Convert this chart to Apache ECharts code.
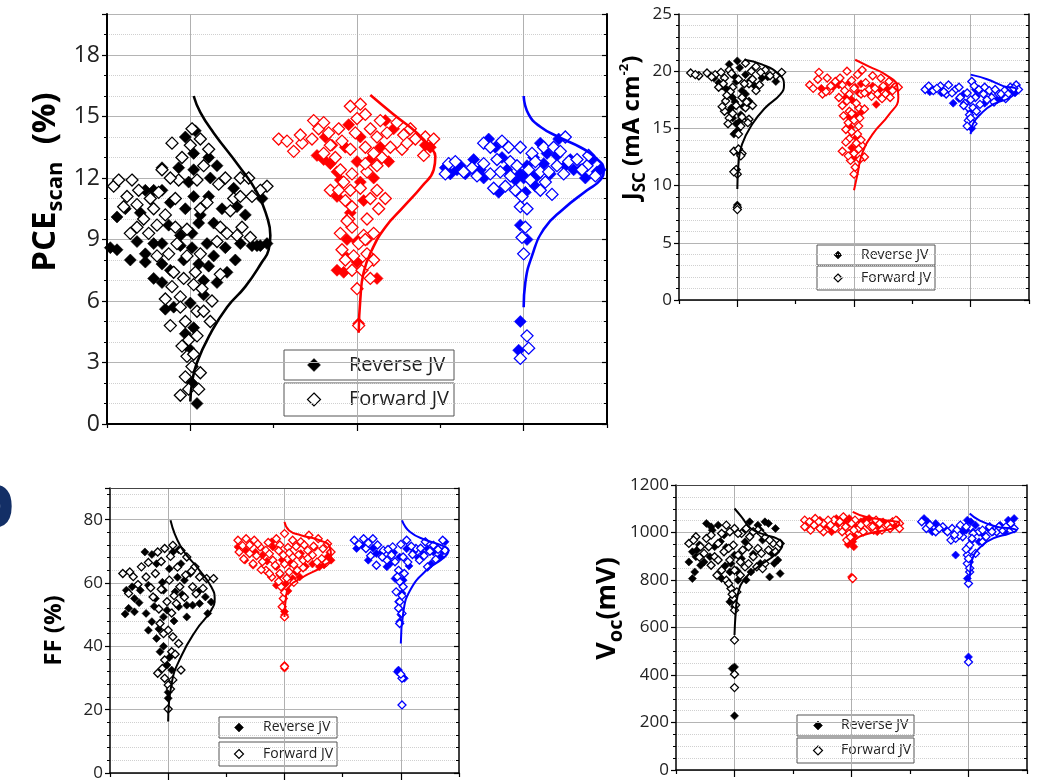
<!DOCTYPE html>
<html>
<head>
<meta charset="utf-8">
<script src="https://cdn.jsdelivr.net/npm/echarts@6/dist/echarts.min.js"></script>
<style>
  html, body { margin: 0; padding: 0; background: #fff; }
  #chart { width: 1037px; height: 784px; }
</style>
</head>
<body>
<div id="chart"></div>
<script>
// Device groups sit at x = 1, 2, 3; each point is [offset from group centre, value].
const groupColors = ['#000000', '#ff0000', '#0000ff'];
const seriesNames = ['Reverse JV', 'Forward JV'];

// ---- PCE (%) ----
const pceRevK = [[-0.03,14.0],[0.03,14.3],[0.02,13.2],[0.11,13.0],[0.16,12.6],[-0.07,12.5],[-0.17,12.5],[0.02,12.4],[0.26,11.5],[0.43,11.0],[0.11,11.1],[0.02,11.1],[-0.44,10.1],[-0.39,10.5],[-0.30,10.3],[-0.22,11.4],[-0.27,11.4],[-0.17,11.4],[-0.12,10.8],[-0.03,10.5],[0.19,10.5],[0.28,10.6],[0.33,10.2],[-0.13,9.7],[0.05,9.8],[0.14,9.8],[-0.48,8.6],[-0.44,8.5],[-0.36,8.0],[-0.32,8.9],[-0.27,8.3],[-0.27,7.9],[-0.22,8.8],[-0.17,8.8],[-0.06,9.2],[0.01,8.6],[0.10,8.8],[0.21,8.6],[0.27,8.0],[0.30,8.8],[0.37,8.7],[0.42,8.7],[0.46,8.8],[-0.22,7.1],[-0.17,7.8],[-0.12,7.5],[-0.04,8.0],[0.05,7.8],[0.11,7.7],[0.16,6.9],[0.22,7.4],[-0.17,6.9],[-0.15,5.6],[-0.10,5.7],[0.00,5.9],[0.02,4.7],[-0.03,4.4],[-0.01,3.7],[0.01,2.0],[0.04,1.0],[0.01,9.3],[-0.06,8.7],[0.14,8.2],[0.08,7.0],[0.12,12.0],[-0.01,11.8],[0.06,10.2],[0.08,6.3],[0.40,8.7]];
const pceFwdK = [[0.01,14.4],[0.06,13.9],[-0.11,13.7],[-0.05,13.0],[0.11,13.4],[0.00,13.6],[0.08,12.6],[-0.17,12.4],[-0.07,11.9],[-0.12,12.0],[0.04,11.9],[0.17,11.7],[0.21,12.0],[0.30,12.0],[0.35,12.0],[0.46,11.6],[0.42,11.4],[-0.46,11.6],[-0.43,11.9],[-0.35,11.9],[-0.38,11.1],[-0.31,11.4],[-0.24,11.0],[-0.19,11.3],[-0.09,11.0],[0.26,11.0],[0.30,11.1],[0.37,11.1],[-0.32,10.7],[-0.22,10.5],[0.06,10.5],[0.24,10.4],[-0.36,9.3],[-0.25,9.3],[-0.20,9.7],[-0.32,9.6],[-0.09,9.6],[-0.02,9.5],[0.18,9.6],[0.28,9.2],[0.31,9.6],[0.36,9.1],[-0.08,8.8],[-0.02,8.2],[0.06,8.3],[-0.13,8.3],[0.16,8.9],[-0.04,7.1],[-0.11,6.7],[0.02,6.8],[0.07,6.6],[0.13,6.0],[-0.15,6.1],[-0.06,6.2],[0.04,5.5],[-0.06,5.7],[0.08,5.5],[-0.03,5.0],[-0.01,4.1],[-0.05,3.8],[-0.02,3.3],[0.02,3.4],[0.01,2.8],[-0.03,2.3],[-0.06,1.4],[-0.01,1.7],[0.05,1.7],[0.06,2.5],[-0.40,10.6],[-0.28,10.0],[-0.15,10.2],[0.10,10.8],[0.22,9.3],[-0.10,7.4],[0.18,7.3],[-0.20,8.2],[0.03,7.4],[0.12,5.0],[-0.12,4.8],[0.04,4.3]];
const pceRevR = [[-0.05,14.6],[0.17,14.8],[0.02,14.0],[-0.19,14.0],[-0.24,13.1],[-0.20,12.9],[-0.16,12.7],[-0.12,12.3],[-0.07,13.5],[0.00,12.8],[0.08,12.9],[0.19,12.8],[0.10,12.0],[0.02,11.8],[-0.10,11.9],[-0.12,11.1],[0.04,10.9],[-0.04,10.3],[-0.06,9.0],[0.00,8.9],[0.06,9.0],[-0.06,8.1],[0.00,7.9],[-0.12,7.5],[-0.08,7.4],[0.12,7.1],[0.44,13.5],[0.41,13.6],[0.01,4.9],[0.22,14.4],[-0.15,13.6],[0.14,13.5]];
const pceFwdR = [[-0.04,15.5],[0.02,15.6],[0.05,15.1],[-0.47,13.9],[-0.42,13.8],[-0.38,13.3],[-0.33,13.7],[-0.27,13.9],[-0.26,14.8],[-0.23,14.4],[-0.17,14.2],[-0.11,14.4],[-0.09,13.8],[-0.01,14.2],[0.08,14.4],[0.12,14.0],[0.18,14.2],[0.24,14.7],[0.28,14.1],[0.35,13.9],[0.41,14.0],[0.46,13.9],[0.40,13.1],[0.27,13.4],[0.20,13.5],[0.15,13.0],[0.05,13.5],[-0.04,13.4],[-0.13,13.0],[-0.20,13.2],[-0.10,12.4],[-0.03,12.2],[0.06,12.3],[0.12,12.6],[-0.16,11.4],[-0.11,11.4],[-0.04,11.4],[0.02,11.5],[0.12,11.4],[0.17,11.0],[-0.07,10.9],[-0.03,10.6],[0.06,10.0],[-0.05,10.0],[-0.10,9.3],[-0.03,9.6],[0.04,9.2],[0.10,9.3],[-0.09,8.5],[0.01,8.8],[0.06,8.3],[-0.07,8.0],[-0.03,7.5],[0.10,8.0],[0.08,7.1],[0.03,7.5],[0.00,6.6],[0.01,4.8],[-0.34,14.1],[-0.20,14.7],[0.00,14.9],[0.14,14.8],[0.32,14.4],[-0.16,13.6],[0.10,13.2],[0.30,13.7],[0.05,12.7],[-0.08,11.8],[0.08,11.0],[0.13,10.5],[-0.06,9.9],[0.05,9.0],[-0.02,8.2],[0.06,7.8]];
const pceRevB = [[-0.47,12.5],[-0.44,12.2],[-0.40,12.4],[-0.35,12.2],[-0.30,12.9],[-0.26,12.4],[-0.21,13.9],[-0.17,13.5],[-0.15,11.3],[-0.10,12.4],[-0.05,11.9],[-0.02,12.2],[0.02,12.6],[0.06,13.0],[0.10,13.7],[0.12,12.7],[0.16,12.2],[0.20,13.1],[0.25,12.6],[0.30,12.4],[0.34,12.4],[0.41,12.9],[0.46,12.4],[0.21,13.9],[0.01,11.3],[-0.02,9.7],[0.02,9.0],[-0.02,5.0],[-0.03,3.6],[0.00,12.0],[-0.13,13.0],[0.08,12.1],[-0.38,12.6],[-0.24,12.0],[-0.08,12.8],[0.04,12.2],[0.14,13.2],[0.28,12.9],[0.37,12.0],[0.44,12.3],[0.07,11.6]];
const pceFwdB = [[-0.24,13.7],[-0.20,13.5],[-0.13,13.8],[-0.09,13.5],[-0.02,13.5],[0.05,13.2],[0.12,13.5],[0.18,13.5],[0.22,13.3],[0.25,14.0],[-0.45,12.7],[-0.41,12.8],[-0.47,12.2],[-0.31,12.5],[-0.24,12.7],[-0.20,12.2],[-0.14,12.3],[-0.08,12.8],[0.03,12.4],[0.10,12.3],[0.15,12.3],[0.27,12.8],[0.32,12.9],[0.38,12.6],[0.43,12.1],[-0.18,11.5],[-0.11,11.6],[-0.05,11.4],[0.04,11.9],[0.10,11.4],[0.17,11.2],[-0.02,10.6],[0.02,10.5],[0.01,9.6],[-0.01,9.1],[0.00,8.3],[0.02,4.3],[0.03,3.7],[-0.02,3.2],[-0.36,12.3],[-0.28,12.1],[-0.16,12.9],[-0.04,12.6],[0.07,12.8],[0.20,12.6],[0.24,12.2],[0.35,12.4],[-0.08,12.1],[0.13,11.8],[-0.01,11.1],[0.39,13.1]];
const pceCurveK = [[0.02,16.0],[0.06,15.2],[0.14,14.2],[0.29,12.6],[0.40,11.3],[0.46,10.1],[0.48,9.2],[0.47,8.5],[0.43,7.9],[0.33,6.7],[0.22,5.7],[0.12,4.4],[0.04,3.0],[0.01,2.0],[0.0,1.1]];
const pceCurveR = [[0.08,16.05],[0.22,15.1],[0.36,14.2],[0.44,13.5],[0.47,13.05],[0.46,12.4],[0.39,11.6],[0.28,10.6],[0.17,9.6],[0.09,8.5],[0.04,7.4],[0.02,6.1],[0.01,4.45]];
const pceCurveB = [[0.0,16.0],[0.03,15.1],[0.10,14.5],[0.21,14.0],[0.34,13.5],[0.43,13.0],[0.48,12.4],[0.46,11.9],[0.38,11.4],[0.24,10.5],[0.12,9.5],[0.05,8.2],[0.01,6.9],[0.0,5.7]];

// ---- Jsc (mA cm-2) ----
const jscRevK = [[0.00,20.9],[-0.07,20.6],[0.07,19.7],[0.21,19.4],[0.33,19.1],[-0.01,19.1],[-0.09,18.4],[0.04,18.3],[-0.04,17.7],[0.10,17.4],[-0.07,16.5],[0.03,16.2],[-0.04,15.9],[-0.01,15.4],[-0.03,14.5],[0.00,8.3],[0.00,13.0],[-0.16,19.0],[0.02,20.3],[-0.03,19.6],[0.11,19.2],[0.26,19.5],[-0.13,18.7],[0.07,18.0],[-0.02,17.3],[0.05,16.9],[-0.05,16.8],[0.02,15.6],[0.00,14.8],[-0.20,19.4],[0.15,18.7]];
const jscFwdK = [[-0.40,19.85],[-0.33,19.6],[-0.26,19.85],[-0.19,19.7],[-0.11,19.4],[-0.07,20.1],[-0.16,18.6],[0.07,20.7],[0.16,20.4],[0.24,20.1],[0.33,19.6],[0.38,19.9],[0.10,18.9],[0.16,18.3],[0.04,17.7],[-0.10,17.4],[-0.01,17.0],[0.07,16.8],[-0.11,16.5],[-0.07,15.9],[0.10,15.8],[0.03,15.2],[0.01,14.5],[-0.03,13.0],[0.04,12.8],[-0.01,11.4],[0.00,11.0],[0.00,8.1],[-0.04,18.6],[0.01,19.3],[-0.36,19.7],[-0.22,19.5],[-0.14,19.9],[-0.05,19.8],[0.12,20.0],[0.20,19.9],[0.28,19.6],[-0.12,18.9],[-0.06,18.2],[0.06,18.9],[0.13,19.3],[0.19,18.8],[-0.09,17.9],[0.08,17.3],[0.13,17.0],[-0.13,16.9],[0.04,16.0],[-0.04,16.3],[0.09,15.5],[-0.08,15.4],[0.01,13.2],[0.03,12.6],[-0.03,11.2],[0.00,7.9]];
const jscRevR = [[-0.37,18.7],[-0.13,18.8],[-0.04,19.0],[0.01,18.6],[0.10,19.0],[0.16,18.7],[0.27,18.6],[0.34,18.6],[0.19,17.1],[0.04,18.1],[-0.07,17.7],[0.01,16.2],[-0.03,15.1],[0.03,13.6],[-0.01,12.9],[-0.23,18.3],[-0.28,18.5],[-0.18,18.6],[0.06,18.9],[0.22,18.4],[0.12,18.2],[-0.02,17.5],[0.06,16.4],[-0.04,16.0],[0.02,14.2],[-0.02,13.3],[0.00,12.4],[0.30,18.3]];
const jscFwdR = [[-0.38,18.8],[-0.31,19.3],[-0.30,19.9],[-0.23,19.4],[-0.16,19.1],[-0.10,18.8],[-0.06,20.0],[0.03,19.7],[0.07,20.1],[0.16,19.6],[0.23,19.4],[0.30,19.1],[0.36,18.7],[0.38,18.6],[-0.27,18.0],[-0.21,18.3],[-0.13,17.7],[-0.04,18.0],[0.06,18.0],[0.13,18.4],[0.20,18.0],[0.27,18.0],[0.31,17.7],[-0.10,17.0],[-0.04,16.5],[0.04,16.8],[0.09,16.7],[-0.09,16.1],[0.00,15.7],[-0.07,14.9],[0.03,14.5],[-0.04,14.1],[0.07,13.5],[-0.10,13.0],[0.00,12.8],[0.09,12.5],[-0.03,12.2],[0.00,11.0],[0.04,13.2],[-0.35,18.5],[-0.20,18.7],[-0.12,19.4],[-0.02,19.2],[0.10,19.0],[0.18,18.5],[0.25,18.7],[0.33,18.3],[-0.24,18.2],[-0.08,18.3],[0.00,18.5],[0.09,18.1],[0.15,17.8],[0.24,17.6],[-0.06,17.4],[0.02,17.2],[-0.02,16.3],[0.05,15.9],[-0.05,15.5],[0.04,15.2],[-0.02,14.7],[0.06,14.0],[-0.07,13.8],[0.02,13.7],[-0.05,12.6],[0.05,12.3],[0.01,11.6]];
const jscRevB = [[-0.15,17.2],[-0.06,18.0],[-0.01,15.2],[0.05,17.8],[0.19,17.4],[0.26,17.7],[0.04,18.4],[0.36,18.3],[-0.25,18.1],[-0.10,17.6],[0.00,16.5],[0.01,15.0],[0.12,17.2],[0.23,17.5],[0.31,17.8],[0.38,18.1],[-0.35,18.2]];
const jscFwdB = [[-0.39,18.4],[-0.32,18.3],[-0.26,18.7],[-0.19,18.8],[-0.21,18.0],[-0.13,18.4],[-0.09,17.7],[-0.05,17.2],[-0.02,16.8],[-0.01,16.2],[0.02,16.8],[-0.02,15.7],[-0.03,15.2],[0.01,19.1],[0.07,18.4],[0.11,18.0],[0.18,17.7],[0.24,18.0],[0.29,18.3],[0.34,18.6],[0.39,18.8],[0.41,18.4],[0.04,17.7],[0.08,17.1],[-0.36,18.7],[-0.29,18.5],[-0.23,18.2],[-0.16,18.1],[-0.10,18.6],[-0.03,18.1],[0.03,18.7],[0.00,17.5],[-0.06,17.0],[0.05,16.5],[0.00,15.9],[0.02,15.4],[0.12,18.6],[0.16,18.3],[0.21,18.4],[0.26,18.0],[0.32,18.0],[0.37,18.5],[0.30,17.6],[0.20,17.3],[0.14,17.5]];
const jscCurveK = [[0.06,21.0],[0.21,20.6],[0.36,19.7],[0.40,18.8],[0.37,18.0],[0.24,16.8],[0.13,15.4],[0.04,13.6],[0.01,11.9],[0.0,9.7]];
const jscCurveR = [[0.01,21.0],[0.13,20.4],[0.27,19.7],[0.37,18.7],[0.38,17.7],[0.30,16.2],[0.16,14.5],[0.07,12.8],[0.03,11.0],[0.0,9.6]];
const jscCurveB = [[0.0,19.7],[0.14,19.3],[0.28,18.7],[0.39,18.4],[0.34,17.7],[0.19,17.1],[0.08,16.2],[0.02,15.4],[0.0,14.5]];

// ---- FF (%) ----
const ffRevK = [[-0.37,50.2],[-0.34,52.0],[-0.29,50.9],[-0.36,57.7],[-0.29,55.1],[-0.20,69.8],[-0.17,59.3],[-0.24,57.7],[-0.19,50.4],[-0.14,47.8],[-0.17,45.1],[-0.10,42.5],[-0.04,49.3],[-0.01,51.4],[0.06,57.2],[0.14,60.9],[0.19,63.0],[0.11,66.1],[0.04,69.8],[0.09,52.5],[0.16,53.0],[0.21,53.0],[0.27,53.5],[0.34,50.4],[0.37,54.0],[0.32,55.6],[-0.04,57.7],[-0.10,66.1],[-0.07,38.3],[-0.01,34.1],[0.03,32.5],[0.00,23.6],[0.16,49.3],[-0.11,55.1],[-0.31,58.8],[-0.25,53.8],[-0.12,52.6],[-0.05,60.2],[0.01,64.5],[0.08,61.8],[0.12,56.4],[0.26,57.3],[0.05,48.0],[-0.08,45.5],[-0.04,40.0],[0.01,36.5],[0.00,25.5],[-0.14,69.0],[0.09,70.5]];
const ffFwdK = [[-0.39,63.0],[-0.33,63.5],[-0.34,56.7],[-0.23,65.1],[-0.19,61.9],[-0.11,63.0],[-0.09,69.8],[-0.03,70.9],[0.04,71.9],[0.11,70.3],[0.16,68.2],[0.23,65.1],[0.27,61.9],[0.33,61.4],[0.39,61.4],[0.30,58.3],[0.21,58.8],[0.10,58.8],[0.01,60.9],[-0.13,55.6],[-0.01,54.1],[0.07,53.5],[-0.07,47.2],[0.00,45.1],[0.04,43.0],[0.09,40.9],[0.03,38.3],[-0.03,35.7],[-0.09,31.5],[-0.03,29.9],[0.00,27.8],[0.04,29.4],[0.11,32.5],[0.00,20.2],[-0.30,62.0],[-0.26,59.5],[-0.17,66.5],[-0.06,66.8],[0.02,68.4],[0.08,65.0],[0.15,62.5],[0.20,63.7],[-0.15,58.5],[-0.06,58.0],[0.05,56.0],[0.14,55.5],[0.24,56.6],[-0.08,51.8],[0.03,50.5],[-0.04,44.0],[0.06,37.5],[-0.05,33.0],[0.02,26.5]];
const ffRevR = [[-0.40,71.4],[-0.34,67.2],[-0.27,65.6],[-0.19,68.8],[-0.07,65.1],[0.01,59.8],[0.07,61.4],[0.13,61.9],[-0.07,59.3],[0.30,65.1],[0.37,68.2],[0.40,67.2],[0.00,49.9],[0.00,33.1],[0.14,69.3],[-0.10,71.4],[-0.33,70.2],[-0.25,69.7],[-0.15,66.9],[-0.02,67.3],[0.05,66.2],[0.10,63.5],[0.18,65.2],[0.24,66.0],[0.34,65.7],[0.39,69.6],[-0.04,62.5],[0.03,57.5],[0.00,51.0],[0.00,34.0],[-0.11,73.0],[0.26,71.2]];
const ffFwdR = [[-0.40,73.5],[-0.33,74.0],[-0.26,73.5],[-0.39,69.8],[-0.30,69.3],[-0.21,71.4],[-0.16,70.3],[-0.07,74.0],[0.00,75.6],[0.07,73.5],[0.14,73.0],[0.21,75.1],[0.29,74.0],[0.37,72.4],[0.40,69.8],[-0.27,66.1],[-0.19,66.7],[-0.10,67.2],[-0.01,68.8],[0.07,68.2],[0.16,67.2],[0.24,68.8],[0.32,67.7],[-0.11,61.9],[-0.04,63.0],[0.04,63.5],[0.11,64.0],[-0.03,58.8],[-0.01,55.1],[0.00,49.3],[0.00,33.6],[-0.16,64.0],[0.20,70.3],[-0.36,71.8],[-0.30,72.0],[-0.23,72.3],[-0.14,72.8],[-0.04,72.0],[0.03,71.2],[0.10,71.5],[0.17,72.0],[0.25,71.6],[0.33,70.8],[-0.35,67.6],[-0.24,68.6],[-0.13,69.2],[-0.05,70.2],[0.04,69.5],[0.12,68.9],[0.20,67.8],[0.28,66.6],[0.36,66.5],[-0.20,64.2],[-0.08,65.6],[0.00,66.0],[0.08,65.8],[0.16,64.8],[-0.13,63.0],[0.02,61.5],[0.08,60.2],[-0.05,60.5],[0.00,57.0],[-0.02,52.5]];
const ffRevB = [[-0.38,70.9],[-0.28,67.2],[-0.21,69.3],[-0.12,65.1],[-0.01,68.2],[0.11,69.8],[0.19,69.3],[0.28,69.8],[0.34,68.2],[0.38,73.0],[0.26,66.1],[-0.05,61.4],[0.02,60.9],[-0.02,54.1],[-0.01,47.8],[-0.02,32.5],[0.03,29.9],[-0.33,71.8],[-0.24,71.0],[-0.16,69.8],[-0.06,69.6],[0.05,70.8],[0.15,68.0],[0.23,70.8],[0.31,71.2],[0.36,70.0],[-0.09,66.2],[0.07,65.4],[0.01,56.8],[0.00,50.0],[-0.03,32.0]];
const ffFwdB = [[-0.40,73.5],[-0.32,74.0],[-0.24,74.0],[-0.30,70.9],[-0.15,70.3],[-0.07,71.4],[0.05,73.5],[0.13,70.9],[0.21,73.0],[0.28,71.9],[0.36,73.5],[0.38,70.3],[-0.21,65.6],[-0.12,67.2],[-0.05,66.7],[0.02,68.2],[0.16,67.2],[0.23,65.1],[-0.02,64.0],[0.03,63.0],[-0.01,60.4],[-0.04,57.2],[0.02,58.8],[-0.01,54.1],[0.01,50.4],[-0.01,47.2],[0.01,29.9],[0.01,21.5],[-0.36,72.2],[-0.28,72.6],[-0.20,72.0],[-0.11,70.6],[0.00,72.2],[0.09,71.6],[0.17,71.0],[0.25,70.0],[0.32,70.6],[-0.26,68.6],[-0.16,68.2],[-0.08,68.8],[0.06,66.6],[0.10,69.0],[0.20,68.6],[0.30,67.5],[-0.03,62.0],[0.01,56.0],[-0.02,52.0],[0.00,31.2]];
const ffCurveK = [[0.02,79.8],[0.11,71.4],[0.27,64.0],[0.37,58.8],[0.40,55.1],[0.37,51.4],[0.24,45.1],[0.11,36.7],[0.03,28.3],[0.0,16.3]];
const ffCurveR = [[0.0,79.3],[0.04,76.6],[0.14,75.1],[0.30,73.5],[0.39,71.4],[0.40,68.2],[0.32,65.1],[0.16,61.9],[0.04,58.8],[0.01,54.6],[0.0,49.3]];
const ffCurveB = [[0.01,79.8],[0.08,76.1],[0.22,73.5],[0.35,71.9],[0.41,70.3],[0.36,67.7],[0.22,64.0],[0.08,57.7],[0.02,50.4],[0.0,40.9]];

// ---- Voc (mV) ----
const vocRevK = [[-0.39,876],[-0.36,806],[-0.34,834],[-0.29,862],[-0.36,919],[-0.32,926],[-0.24,1038],[-0.19,1010],[-0.14,1031],[-0.09,989],[-0.17,940],[-0.21,898],[-0.26,876],[-0.11,806],[-0.04,834],[0.03,799],[0.09,961],[0.13,1045],[0.20,1031],[0.26,1045],[0.24,968],[0.32,912],[0.37,884],[0.30,813],[0.39,827],[0.14,834],[-0.04,708],[0.00,687],[0.00,434],[-0.02,427],[0.00,228],[0.07,1003],[-0.03,869],[-0.33,898],[-0.30,948],[-0.20,1024],[-0.12,962],[-0.07,938],[0.00,905],[0.06,890],[0.16,910],[0.22,1010],[0.29,1038],[0.35,1017],[0.34,870],[-0.08,860],[0.10,800],[-0.02,720],[0.02,840],[0.22,870]];
const vocFwdK = [[-0.39,954],[-0.33,982],[-0.29,940],[-0.20,989],[-0.14,954],[-0.07,1031],[0.00,1017],[0.06,996],[0.13,982],[0.20,1010],[0.26,982],[0.33,954],[0.39,954],[-0.26,912],[-0.17,898],[-0.09,919],[-0.01,947],[0.07,926],[0.16,898],[0.23,912],[0.26,869],[-0.20,862],[-0.11,841],[0.00,841],[0.09,855],[0.19,855],[-0.07,799],[-0.03,764],[-0.01,722],[0.00,673],[0.00,547],[0.00,403],[0.00,347],[-0.35,968],[-0.24,975],[-0.11,996],[-0.04,1003],[0.03,996],[0.10,1017],[0.16,1003],[0.23,996],[0.30,968],[-0.30,896],[-0.22,940],[-0.05,933],[0.03,905],[0.12,940],[0.20,933],[0.29,926],[0.35,919],[-0.14,884],[-0.04,884],[0.05,876],[0.12,869],[0.24,848],[-0.15,820],[0.05,820],[-0.05,785],[0.02,750],[-0.02,740],[0.01,695]];
const vocRevR = [[-0.39,1045],[-0.27,1052],[-0.19,1024],[-0.11,1038],[-0.02,1059],[0.08,1045],[0.15,1059],[0.23,1031],[0.32,1038],[0.39,1052],[0.01,961],[0.02,940],[0.00,813],[0.22,1003],[-0.17,1003],[-0.33,1038],[-0.23,1031],[-0.13,1059],[-0.06,1045],[0.04,1024],[0.11,1052],[0.19,1038],[0.27,1045],[0.36,1031],[0.00,1003],[0.02,985],[-0.03,950]];
const vocFwdR = [[-0.40,1052],[-0.40,1024],[-0.31,1059],[-0.32,1031],[-0.24,1038],[-0.24,1003],[-0.15,1052],[-0.14,1017],[-0.07,1066],[-0.05,1024],[0.03,1052],[0.06,1017],[0.13,1038],[0.21,1052],[0.28,1024],[0.35,1045],[0.41,1038],[0.41,1017],[-0.02,996],[-0.04,968],[0.01,806],[0.19,1010],[-0.36,1045],[-0.28,1045],[-0.20,1052],[-0.10,1045],[0.00,1038],[0.08,1031],[0.16,1024],[0.24,1038],[0.31,1031],[0.38,1052],[-0.35,1010],[-0.27,1017],[-0.18,1031],[-0.08,1003],[0.02,1010],[0.10,1003],[0.18,1024],[0.26,1010],[0.33,1017],[-0.01,980]];
const vocRevB = [[-0.38,1059],[-0.35,1045],[-0.11,905],[-0.02,1010],[-0.01,1052],[0.06,1031],[0.09,961],[0.03,968],[0.21,1003],[0.34,1052],[0.39,1059],[-0.01,806],[0.00,476],[-0.31,1003],[0.01,876],[-0.28,1038],[-0.20,1010],[-0.05,1003],[0.04,1003],[0.13,990],[0.17,1017],[0.27,1031],[0.31,1003],[0.00,935],[0.02,1045]];
const vocFwdB = [[-0.40,1045],[-0.36,1017],[-0.28,1003],[-0.22,1024],[-0.14,1017],[-0.07,1031],[-0.15,968],[-0.11,975],[-0.05,982],[0.01,947],[-0.01,905],[-0.01,869],[0.01,834],[0.00,785],[0.00,455],[0.09,1003],[0.15,982],[0.18,1024],[0.24,1003],[0.29,1010],[0.36,1038],[0.39,1017],[-0.08,989],[0.06,912],[-0.33,1031],[-0.25,1017],[-0.18,1003],[-0.10,1010],[-0.02,1024],[0.04,996],[0.12,1010],[0.20,1003],[0.26,1024],[0.32,1024],[0.03,975],[-0.02,930],[0.00,890],[0.01,850],[-0.12,990],[0.12,960]];
const vocCurveK = [[0.0,1101],[0.06,1066],[0.14,1017],[0.27,989],[0.36,975],[0.41,954],[0.36,912],[0.20,855],[0.09,806],[0.03,743],[0.01,659],[0.0,568]];
const vocCurveR = [[0.01,1087],[0.12,1066],[0.29,1052],[0.41,1038],[0.35,1017],[0.15,996],[0.03,968],[0.01,933]];
const vocCurveB = [[0.01,1080],[0.09,1052],[0.24,1024],[0.36,1017],[0.41,1010],[0.35,996],[0.21,975],[0.09,933],[0.03,883],[0.01,813],[0.0,792]];

const FONT = '"Open Sans", "Noto Sans", sans-serif';

const panels = [
  {
    grid: { left: 107, top: 14, width: 500, height: 410 },
    yMax: 20, interval: 3, minor: 3, labelSize: 23, showMax: false,
    symbol: 12, lineW: 2.6, axisW: 2, topLine: false,
    name: '{a|PCE}{s|scan}{a|  (%)}', nameGap: 40, namePad: [0, 0, 0, 74],
    rich: { a: { fontSize: 33, fontWeight: 'bold', fontFamily: FONT, color: '#000' },
            s: { fontSize: 22, fontWeight: 'bold', fontFamily: FONT, color: '#000', padding: [20, 0, 0, 0] } },
    rev: [pceRevK, pceRevR, pceRevB], fwd: [pceFwdK, pceFwdR, pceFwdB], curve: [pceCurveK, pceCurveR, pceCurveB]
  },
  {
    grid: { left: 679, top: 14, width: 350, height: 286 },
    yMax: 25, interval: 5, minor: 5, labelSize: 17, showMax: true,
    symbol: 8, lineW: 2, axisW: 1.5, topLine: false,
    name: '{a|J}{s|SC}{a| (mA cm}{p|-2}{a|)}', nameGap: 30, namePad: [0, 0, 0, 58],
    rich: { a: { fontSize: 24, fontWeight: 'bold', fontFamily: FONT, color: '#000' },
            s: { fontSize: 17, fontWeight: 'bold', fontFamily: FONT, color: '#000', padding: [16, 0, 0, 0] },
            p: { fontSize: 13, fontWeight: 'bold', fontFamily: FONT, color: '#000', padding: [0, 0, 16, 0] } },
    rev: [jscRevK, jscRevR, jscRevB], fwd: [jscFwdK, jscFwdR, jscFwdB], curve: [jscCurveK, jscCurveR, jscCurveB]
  },
  {
    grid: { left: 110, top: 488, width: 349, height: 285 },
    yMax: 90, interval: 20, minor: 5, labelSize: 17, showMax: false,
    symbol: 8, lineW: 2, axisW: 1.5, topLine: true,
    name: '{a|FF (%)}', nameGap: 44, namePad: [0, 0, 0, 0],
    rich: { a: { fontSize: 24, fontWeight: 'bold', fontFamily: FONT, color: '#000' } },
    rev: [ffRevK, ffRevR, ffRevB], fwd: [ffFwdK, ffFwdR, ffFwdB], curve: [ffCurveK, ffCurveR, ffCurveB]
  },
  {
    grid: { left: 676, top: 485, width: 351, height: 285 },
    yMax: 1200, interval: 200, minor: 4, labelSize: 17, showMax: true,
    symbol: 8, lineW: 2, axisW: 1.5, topLine: true,
    name: '{a|V}{s|oc}{a|(mV)}', nameGap: 44, namePad: [0, 0, 0, 38],
    rich: { a: { fontSize: 27, fontWeight: 'bold', fontFamily: FONT, color: '#000' },
            s: { fontSize: 20, fontWeight: 'bold', fontFamily: FONT, color: '#000', padding: [17, 0, 0, 0] } },
    rev: [vocRevK, vocRevR, vocRevB], fwd: [vocFwdK, vocFwdR, vocFwdB], curve: [vocCurveK, vocCurveR, vocCurveB]
  }
];

const grids = [], xAxes = [], yAxes = [], series = [];

panels.forEach((p, gi) => {
  grids.push(Object.assign({ containLabel: false }, p.grid));

  // bottom axis: ticks at group centres come from minor ticks between half-unit majors
  xAxes.push({
    type: 'value', gridIndex: gi, min: 0.5, max: 3.5, interval: 1, position: 'bottom',
    axisLine: { show: true, onZero: false, lineStyle: { color: '#000', width: p.axisW } },
    axisTick: { show: true, length: 4, lineStyle: { color: '#000', width: 1.2 } },
    minorTick: { show: true, splitNumber: 2, length: 7, lineStyle: { color: '#000', width: 1.2 } },
    splitLine: { show: false },
    minorSplitLine: { show: true, lineStyle: { color: '#b0b0b0', width: 1 } },
    axisLabel: { show: false }
  });
  if (p.topLine) {
    xAxes.push({
      type: 'value', gridIndex: gi, min: 0.5, max: 3.5, interval: 1, position: 'top',
      axisLine: { show: true, onZero: false, lineStyle: { color: '#444', width: 1.2 } },
      axisTick: { show: false }, axisLabel: { show: false }, splitLine: { show: false }
    });
  }
  const xIdx = xAxes.length - (p.topLine ? 2 : 1);

  yAxes.push({
    type: 'value', gridIndex: gi, min: 0, max: p.yMax, interval: p.interval, position: 'left',
    axisLine: { show: true, onZero: false, lineStyle: { color: '#000', width: p.axisW } },
    axisTick: { show: true, length: 5, lineStyle: { color: '#000', width: 1.2 } },
    minorTick: { show: true, splitNumber: p.minor, length: 3, lineStyle: { color: '#000', width: 1 } },
    splitLine: { show: true, lineStyle: { color: '#b4b4b4', width: 1 } },
    minorSplitLine: { show: true, lineStyle: { color: '#d0d0d0', width: 1, type: 'dotted' } },
    axisLabel: { fontSize: p.labelSize, color: '#222', fontFamily: FONT, margin: 7, showMaxLabel: p.showMax,
                 formatter: v => String(v) },
    name: p.name, nameLocation: 'middle', nameRotate: 90, nameGap: p.nameGap,
    nameTextStyle: { fontFamily: FONT, fontWeight: 'bold', color: '#000', rich: p.rich, padding: p.namePad }
  });
  const yIdx = yAxes.length - 1;
  yAxes.push({
    type: 'value', gridIndex: gi, min: 0, max: p.yMax, interval: p.interval, position: 'right',
    axisLine: { show: true, onZero: false, lineStyle: { color: '#000', width: p.axisW } },
    axisTick: { show: true, inside: true, length: 5, lineStyle: { color: '#000', width: 1.2 } },
    minorTick: { show: true, splitNumber: p.minor, length: 3, lineStyle: { color: '#000', width: 1 } },
    splitLine: { show: false }, axisLabel: { show: false }
  });

  for (let g = 0; g < 3; g++) {
    const c = groupColors[g];
    const place = arr => arr.map(([dx, v]) => [g + 1 + dx, v]);
    series.push({
      name: seriesNames[0], type: 'scatter', xAxisIndex: xIdx, yAxisIndex: yIdx,
      symbol: 'diamond', symbolSize: p.symbol, data: place(p.rev[g]),
      itemStyle: { color: c, borderColor: c, borderWidth: 0.6, opacity: 1 }, z: 3
    });
    series.push({
      name: seriesNames[1], type: 'scatter', xAxisIndex: xIdx, yAxisIndex: yIdx,
      symbol: 'diamond', symbolSize: p.symbol, data: place(p.fwd[g]),
      itemStyle: { color: '#ffffff', borderColor: c, borderWidth: 1.3, opacity: 1 }, z: 4
    });
    series.push({
      type: 'line', xAxisIndex: xIdx, yAxisIndex: yIdx, data: place(p.curve[g]),
      smooth: 0.5, showSymbol: false, symbol: 'none', silent: true,
      lineStyle: { color: c, width: p.lineW }, z: 5
    });
  }
});

// legend boxes drawn as plain shapes
function diamond(cx, cy, s, filled) {
  const h = s / 2;
  return {
    type: 'polygon', silent: true,
    shape: { points: [[cx, cy - h], [cx + h, cy], [cx, cy + h], [cx - h, cy]] },
    style: { fill: filled ? '#000' : '#fff', stroke: '#000', lineWidth: filled ? 0.5 : 1.2 }
  };
}
function legendBlock(L) {
  const out = [];
  L.rows.forEach((r, i) => {
    out.push({ type: 'rect', silent: true, shape: { x: L.x, y: r.y, width: L.w, height: r.h },
      style: { fill: '#fff', stroke: '#555', lineWidth: 1 } });
    const cy = r.y + r.h / 2;
    out.push(diamond(L.mx, cy, L.ms, i === 0));
    out.push({ type: 'text', silent: true, x: L.tx, y: cy,
      style: { text: seriesNames[i], fontSize: L.fs, fontFamily: FONT, fill: '#222', verticalAlign: 'middle', align: 'left' } });
  });
  return out;
}
const legends = [
  { x: 284, w: 170, rows: [{ y: 350, h: 30 }, { y: 383, h: 33 }], mx: 314, ms: 13, tx: 349, fs: 20 },
  { x: 817, w: 118, rows: [{ y: 245, h: 20 }, { y: 266, h: 24 }], mx: 838, ms: 8, tx: 861, fs: 14 },
  { x: 219, w: 118, rows: [{ y: 717, h: 21 }, { y: 742, h: 24 }], mx: 239, ms: 9, tx: 263, fs: 14 },
  { x: 797, w: 117, rows: [{ y: 715, h: 21 }, { y: 738, h: 25 }], mx: 818, ms: 9, tx: 841, fs: 14 }
];
const graphic = [];
legends.forEach(L => graphic.push(...legendBlock(L)));
// panel letter, partly cut by the left edge
graphic.push({ type: 'text', silent: true, x: -33, y: 467,
  style: { text: 'b', fontSize: 76, fontWeight: 'bold', fontFamily: FONT, fill: '#132f66' } });

const chart = echarts.init(document.getElementById('chart'), null, { renderer: 'canvas' });
chart.setOption({
  animation: false,
  backgroundColor: '#ffffff',
  grid: grids,
  xAxis: xAxes,
  yAxis: yAxes,
  series: series,
  graphic: graphic
});
</script>
</body>
</html>
